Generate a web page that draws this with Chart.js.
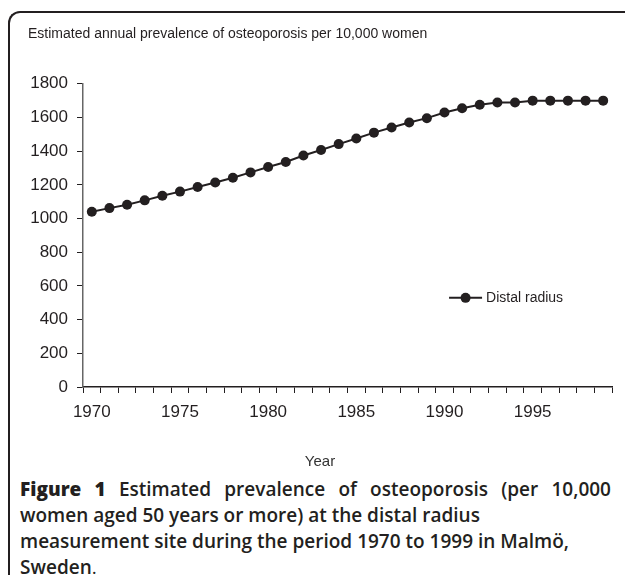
<!DOCTYPE html>
<html>
<head>
<meta charset="utf-8">
<script src="https://cdn.jsdelivr.net/npm/chart.js@4"></script>
<style>
    html, body { margin: 0; padding: 0; background: #fff; }
    body { width: 625px; height: 575px; overflow: hidden; position: relative; }
    .frame {
        position: absolute; left: 8px; top: 11px; width: 700px; height: 700px;
        border-left: 2px solid #231f20; border-top: 2px solid #231f20;
        border-top-left-radius: 12px;
    }
    .chart-wrap { position: absolute; left: 0; top: 0; width: 625px; height: 475px; }
    .caption {
        position: absolute; left: 20px; top: 476px; width: 591px;
        font-family: "Open Sans", sans-serif; font-size: 19px; font-weight: 600;
        line-height: 26px; color: #231f20;
    }
    .caption .first { text-align: justify; text-align-last: justify; }
    .caption b { font-weight: 800; }
    .caption .dot { font-weight: 400; }
</style>
</head>
<body>
<div class="frame"></div>
<div class="chart-wrap"><canvas id="prevalenceChart"></canvas></div>
<div class="caption">
    <div class="first"><b>Figure 1</b> Estimated prevalence of osteoporosis (per 10,000</div>
    <div>women aged 50 years or more) at the distal radius</div>
    <div>measurement site during the period 1970 to 1999 in Malmö,</div>
    <div>Sweden<span class="dot">.</span></div>
</div>
<script>
// 데이터
const years = [
    1970, 1971, 1972, 1973, 1974, 1975, 1976, 1977, 1978, 1979,
    1980, 1981, 1982, 1983, 1984, 1985, 1986, 1987, 1988, 1989,
    1990, 1991, 1992, 1993, 1994, 1995, 1996, 1997, 1998, 1999
];
const distalRadius = [
    1040, 1062, 1082, 1108, 1135, 1160, 1187, 1214, 1242, 1274,
    1306, 1336, 1374, 1407, 1442, 1475, 1510, 1541, 1570, 1596,
    1630, 1655, 1676, 1689, 1689, 1700, 1700, 1700, 1700, 1700
];
const yTicks = [0, 200, 400, 600, 800, 1000, 1200, 1400, 1600, 1800];

const ink = '#231f20';
const fontFamily = '"Liberation Sans", Arial, sans-serif';

// 차트 안쪽 범례 (선 + 점)
const insideLegend = {
    id: 'insideLegend',
    afterDatasetsDraw(chart) {
        const { ctx, chartArea } = chart;
        const ds = chart.data.datasets[0];
        const w = chartArea.right - chartArea.left;
        const h = chartArea.bottom - chartArea.top;
        const x0 = chartArea.left + w * 0.692;
        const x1 = x0 + 33;
        const y = chartArea.top + h * 0.706;
        ctx.save();
        ctx.strokeStyle = ds.borderColor;
        ctx.lineWidth = ds.borderWidth;
        ctx.beginPath();
        ctx.moveTo(x0, y);
        ctx.lineTo(x1, y);
        ctx.stroke();
        ctx.fillStyle = ds.pointBackgroundColor;
        ctx.beginPath();
        ctx.arc((x0 + x1) / 2, y, ds.pointRadius, 0, Math.PI * 2);
        ctx.fill();
        ctx.fillStyle = ink;
        ctx.font = '14px ' + fontFamily;
        ctx.textBaseline = 'middle';
        ctx.fillText(ds.label, x1 + 4, y);
        ctx.restore();
    }
};

const ctx = document.getElementById('prevalenceChart').getContext('2d');
new Chart(ctx, {
    type: 'line',
    data: {
        labels: years,
        datasets: [{
            label: 'Distal radius',
            data: distalRadius,
            borderColor: ink,
            borderWidth: 2,
            pointRadius: 5,
            pointBackgroundColor: ink,
            pointBorderWidth: 0,
            fill: false,
            tension: 0,
        }],
    },
    options: {
        responsive: true,
        maintainAspectRatio: false,
        animation: false,
        layout: {
            padding: { left: 28, right: 13, top: 26, bottom: 4 },
        },
        plugins: {
            legend: { display: false },
            tooltip: { enabled: false },
            title: {
                display: true,
                text: 'Estimated annual prevalence of osteoporosis per 10,000 women',
                align: 'start',
                color: ink,
                font: { family: fontFamily, size: 14, weight: 'normal' },
                padding: { top: 0, bottom: 41 },
            },
            subtitle: {
                display: true,
                position: 'bottom',
                text: 'Year',
                color: '#333',
                font: { family: fontFamily, size: 15, weight: 'normal' },
                padding: { top: 30, bottom: 0 },
            },
        },
        scales: {
            x: {
                type: 'category',
                offset: true,
                afterFit: (scale) => { scale.height = 36; },
                grid: {
                    offset: true,
                    drawOnChartArea: false,
                    drawTicks: true,
                    tickLength: 6,
                    color: ink,
                    lineWidth: 1,
                },
                border: { display: true, color: ink, width: 1.5 },
                ticks: {
                    autoSkip: false,
                    maxRotation: 0,
                    padding: 9,
                    color: ink,
                    font: { family: fontFamily, size: 17 },
                    callback: function (value, index) {
                        const year = years[index];
                        return year % 5 === 0 ? String(year) : '';
                    },
                },
            },
            y: {
                min: 0,
                max: 1800,
                afterFit: (scale) => { scale.width = 55; },
                afterBuildTicks: (scale) => {
                    scale.ticks = yTicks.map(v => ({ value: v }));
                },
                grid: {
                    drawOnChartArea: false,
                    drawTicks: true,
                    tickLength: 6,
                    color: ink,
                },
                border: { display: true, color: '#666', width: 1.5 },
                ticks: {
                    padding: 9,
                    color: ink,
                    font: { family: fontFamily, size: 17 },
                    callback: (value) => String(value),
                },
            },
        },
    },
    plugins: [insideLegend],
});
</script>
</body>
</html>
